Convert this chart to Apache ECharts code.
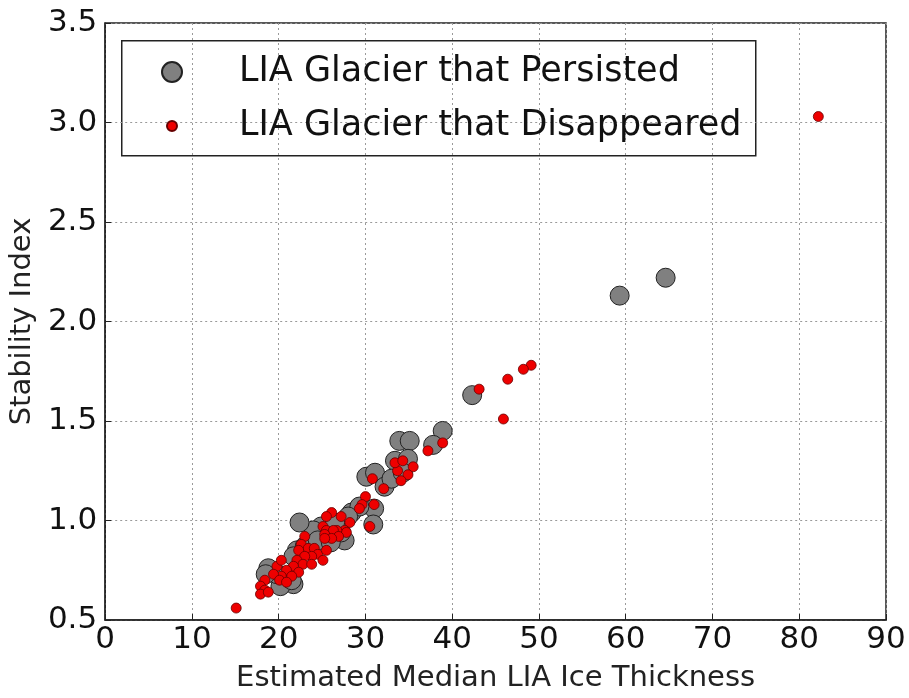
<!DOCTYPE html>
<html><head><meta charset="utf-8">
<script src="https://cdn.jsdelivr.net/npm/echarts@6/dist/echarts.min.js"></script>
<style>html,body{margin:0;padding:0;background:#fff}#c{width:909px;height:698px}</style>
</head><body><div id="c"></div>
<script>
const persistedName = 'LIA Glacier that Persisted';
const disappearedName = 'LIA Glacier that Disappeared';
const xTitle = 'Estimated Median LIA Ice Thickness';
const yTitle = 'Stability Index';

const persistedX = [59.3,64.6,42.3,38.9,37.8,33.9,35.1,33.4,34.9,30.1,31.1,32.2,33.0,34.3,31.0,30.9,28.4,29.3,28.0,27.6,27.2,25.7,24.9,24.0,26.5,22.4,22.1,21.7,23.0,20.7,21.7,20.2,21.5,19.8,18.8,18.5,24.5,26.0];
const persistedY = [2.13,2.22,1.63,1.45,1.38,1.40,1.40,1.30,1.31,1.22,1.24,1.17,1.21,1.24,1.06,0.98,1.04,1.07,1.02,0.90,0.94,0.93,0.97,0.95,0.99,0.99,0.85,0.82,0.87,0.72,0.68,0.67,0.70,0.73,0.76,0.73,0.90,0.89];

const disappearedX = [82.2,49.1,48.2,46.4,43.1,45.9,38.9,37.2,35.5,34.9,34.1,33.7,33.4,34.3,32.1,30.8,30.0,29.6,31.0,29.3,30.5,28.2,27.6,27.8,27.2,26.1,25.5,26.7,25.1,25.5,26.3,25.3,26.9,26.1,25.3,23.0,22.6,23.4,22.3,24.1,24.5,25.5,25.1,23.8,23.0,22.1,22.8,23.8,21.7,20.9,22.3,21.5,20.3,19.8,19.4,20.1,20.9,20.3,18.4,17.9,18.4,17.9,18.8,15.1];
const disappearedY = [3.03,1.78,1.76,1.71,1.66,1.51,1.39,1.35,1.27,1.23,1.20,1.25,1.29,1.30,1.16,1.21,1.12,1.08,1.08,1.06,0.97,0.99,0.95,0.94,1.02,1.04,1.02,0.95,0.97,0.95,0.95,0.93,0.92,0.91,0.91,0.92,0.88,0.86,0.85,0.86,0.83,0.85,0.80,0.82,0.82,0.80,0.78,0.78,0.77,0.75,0.74,0.72,0.72,0.77,0.73,0.70,0.69,0.80,0.70,0.67,0.65,0.63,0.64,0.56];

const xTicks = {min:0,max:90,interval:10};
const yTicks = {min:0.5,max:3.5,interval:0.5};

const FONT = 'DejaVu Sans';
const zip = (a,b) => a.map((v,i)=>[v,b[i]]);

const chart = echarts.init(document.getElementById('c'), null, {renderer:'canvas'});
const gridLine = {show:true, lineStyle:{color:'#9a9a9a', type:[2,3], width:1}};
chart.setOption({
  animation:false,
  backgroundColor:'#fff',
  textStyle:{fontFamily:FONT},
  grid:{left:103, right:23, top:23, bottom:74.5, show:true, borderColor:'#222', borderWidth:1.5, backgroundColor:'transparent'},
  xAxis:{type:'value', min:xTicks.min, max:xTicks.max, interval:xTicks.interval,
    name:xTitle, nameLocation:'middle', nameGap:44,
    nameTextStyle:{fontSize:29, color:'#222', fontFamily:FONT},
    axisLine:{show:true, lineStyle:{color:'#222', width:1.5}},
    axisTick:{show:true, inside:true, length:6, lineStyle:{color:'#222'}},
    axisLabel:{fontSize:31, color:'#111', margin:4, fontFamily:FONT},
    splitLine:gridLine},
  yAxis:{type:'value', min:yTicks.min, max:yTicks.max, interval:yTicks.interval,
    name:yTitle, nameLocation:'middle', nameGap:57, nameRotate:90,
    nameTextStyle:{fontSize:29, color:'#222', fontFamily:FONT},
    axisLine:{show:true, lineStyle:{color:'#222', width:1.5}},
    axisTick:{show:true, inside:true, length:6, lineStyle:{color:'#222'}},
    axisLabel:{fontSize:31, color:'#111', margin:8, fontFamily:FONT, formatter:v=>v.toFixed(1)},
    splitLine:gridLine},
  legend:[
    {data:[persistedName], left:161, top:52, padding:0, orient:'vertical', itemWidth:20, itemHeight:20, icon:'circle',
     textStyle:{fontSize:35, lineHeight:40, color:'#111', fontFamily:FONT, padding:[0,0,0,52]}},
    {data:[disappearedName], left:166, top:106, padding:0, orient:'vertical', itemWidth:10, itemHeight:10, icon:'circle',
     textStyle:{fontSize:35, lineHeight:40, color:'#111', fontFamily:FONT, padding:[0,0,0,57]}}
  ],
  graphic:[{type:'rect', left:121, top:40, shape:{width:634, height:115}, style:{fill:'#fff', stroke:'#222', lineWidth:1.5}, z:-1}],
  series:[
    {name:persistedName, type:'scatter', data:zip(persistedX,persistedY), symbolSize:19,
     itemStyle:{color:'#808080', borderColor:'#222', borderWidth:1, opacity:1}, z:3},
    {name:disappearedName, type:'scatter', data:zip(disappearedX,disappearedY), symbolSize:10,
     itemStyle:{color:'#ee0000', borderColor:'#600', borderWidth:0.8, opacity:1}, z:4}
  ]
});
</script></body></html>
